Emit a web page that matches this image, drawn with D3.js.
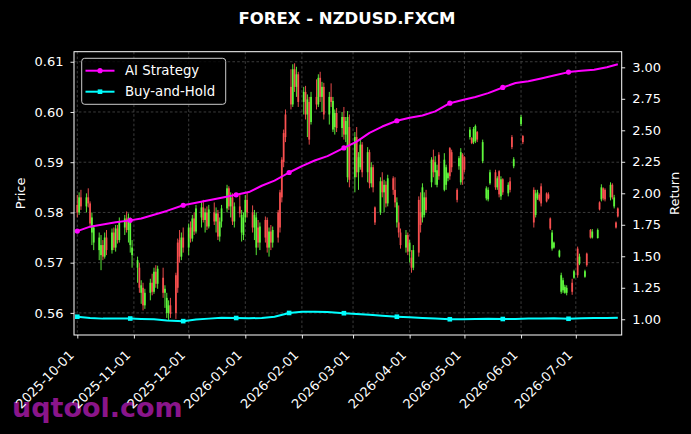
<!DOCTYPE html>
<html><head><meta charset="utf-8">
<script src="https://cdn.jsdelivr.net/npm/d3@7"></script>
<style>html,body{margin:0;padding:0;background:#000;}svg{display:block;}</style>
</head><body>
<svg id="c" width="691" height="434"></svg>
<script>
// ---------- DATA ----------
const chartTitle = "FOREX - NZDUSD.FXCM";
const seriesNames = ["AI Strategy", "Buy-and-Hold"];
const priceTicks = [0.56, 0.57, 0.58, 0.59, 0.60, 0.61];
const returnTicks = [1.00, 1.25, 1.50, 1.75, 2.00, 2.25, 2.50, 2.75, 3.00];
const monthTicks = ["2025-10-01","2025-11-01","2025-12-01","2026-01-01","2026-02-01","2026-03-01","2026-04-01","2026-05-01","2026-06-01","2026-07-01"];
// [date, open, high, low, close]
const candles = [
["2025-10-01",.5815,.5835,.5790,.5800],["2025-10-02",.5800,.5840,.5795,.5830],["2025-10-03",.5830,.5845,.5805,.5812],
["2025-10-06",.5812,.5838,.5800,.5830],["2025-10-07",.5830,.5848,.5810,.5818],["2025-10-08",.5818,.5822,.5770,.5778],
["2025-10-09",.5760,.5800,.5735,.5790],["2025-10-10",.5740,.5775,.5725,.5770],["2025-10-13",.5725,.5760,.5705,.5750],
["2025-10-14",.5715,.5755,.5685,.5735],["2025-10-15",.5735,.5745,.5705,.5712],["2025-10-16",.5712,.5760,.5708,.5750],
["2025-10-17",.5750,.5765,.5715,.5725],["2025-10-20",.5725,.5768,.5718,.5760],["2025-10-21",.5760,.5770,.5725,.5730],
["2025-10-22",.5730,.5775,.5722,.5768],["2025-10-23",.5768,.5775,.5738,.5745],["2025-10-24",.5745,.5790,.5740,.5782],
["2025-10-27",.5770,.5795,.5755,.5788],["2025-10-28",.5788,.5802,.5760,.5765],["2025-10-29",.5765,.5798,.5740,.5790],
["2025-10-30",.5735,.5790,.5720,.5780],["2025-10-31",.5715,.5745,.5690,.5730],["2025-11-03",.5690,.5712,.5660,.5705],
["2025-11-04",.5690,.5700,.5640,.5650],["2025-11-05",.5640,.5665,.5618,.5655],["2025-11-06",.5650,.5660,.5605,.5615],
["2025-11-07",.5615,.5648,.5608,.5640],["2025-11-10",.5640,.5668,.5625,.5660],["2025-11-11",.5660,.5678,.5635,.5642],
["2025-11-12",.5642,.5690,.5638,.5682],["2025-11-13",.5682,.5695,.5650,.5658],["2025-11-14",.5658,.5694,.5648,.5688],
["2025-11-17",.5670,.5690,.5630,.5640],["2025-11-18",.5640,.5655,.5610,.5648],["2025-11-19",.5600,.5640,.5590,.5630],
["2025-11-20",.5600,.5625,.5585,.5615],["2025-11-21",.5615,.5630,.5590,.5598],["2025-11-24",.5675,.5680,.5588,.5600],
["2025-11-25",.5740,.5748,.5640,.5650],["2025-11-26",.5745,.5765,.5700,.5712],["2025-11-27",.5712,.5760,.5705,.5750],
["2025-11-28",.5750,.5770,.5720,.5730],["2025-12-01",.5730,.5778,.5715,.5770],["2025-12-02",.5770,.5782,.5740,.5748],
["2025-12-03",.5748,.5795,.5742,.5788],["2025-12-04",.5788,.5800,.5755,.5762],["2025-12-05",.5762,.5815,.5758,.5808],
["2025-12-08",.5790,.5822,.5770,.5810],["2025-12-09",.5810,.5825,.5780,.5785],["2025-12-10",.5785,.5808,.5760,.5800],
["2025-12-11",.5800,.5812,.5765,.5772],["2025-12-12",.5772,.5815,.5768,.5806],["2025-12-15",.5800,.5820,.5775,.5782],
["2025-12-16",.5782,.5810,.5760,.5798],["2025-12-17",.5798,.5805,.5745,.5752],["2025-12-18",.5752,.5790,.5742,.5782],
["2025-12-19",.5782,.5815,.5770,.5808],["2025-12-22",.5808,.5855,.5800,.5848],["2025-12-23",.5848,.5852,.5805,.5812],
["2025-12-24",.5812,.5840,.5790,.5830],["2025-12-25",.5830,.5838,.5775,.5782],["2025-12-26",.5782,.5820,.5770,.5812],
["2025-12-29",.5812,.5838,.5790,.5798],["2025-12-30",.5760,.5805,.5742,.5795],["2025-12-31",.5755,.5800,.5745,.5790],
["2026-01-01",.5790,.5835,.5780,.5825],["2026-01-02",.5825,.5840,.5790,.5800],["2026-01-05",.5800,.5814,.5760,.5770],
["2026-01-06",.5770,.5805,.5745,.5795],["2026-01-07",.5730,.5800,.5715,.5790],["2026-01-08",.5770,.5785,.5730,.5740],
["2026-01-09",.5740,.5780,.5725,.5772],["2026-01-12",.5785,.5792,.5740,.5750],["2026-01-13",.5785,.5790,.5720,.5730],
["2026-01-14",.5730,.5770,.5712,.5762],["2026-01-15",.5762,.5775,.5725,.5740],["2026-01-16",.5740,.5772,.5730,.5765],
["2026-01-19",.5800,.5805,.5740,.5750],["2026-01-20",.5840,.5845,.5760,.5770],["2026-01-21",.5905,.5910,.5820,.5830],
["2026-01-22",.5958,.5965,.5890,.5900],["2026-01-23",.5995,.6005,.5940,.5950],["2026-01-26",.6050,.6085,.6005,.6015],
["2026-01-27",.6015,.6095,.6010,.6085],["2026-01-28",.6085,.6097,.6040,.6050],["2026-01-29",.6050,.6090,.6030,.6075],
["2026-01-30",.6075,.6080,.6010,.6020],["2026-02-02",.6020,.6050,.5995,.6040],["2026-02-03",.6040,.6052,.5985,.5995],
["2026-02-04",.5995,.6035,.5950,.6025],["2026-02-05",.6020,.6030,.5935,.5945],["2026-02-06",.5980,.6040,.5975,.6030],
["2026-02-09",.6030,.6065,.6005,.6015],["2026-02-10",.6015,.6075,.6010,.6068],["2026-02-11",.6068,.6080,.6020,.6030],
["2026-02-12",.6030,.6060,.6000,.6050],["2026-02-13",.6050,.6058,.5985,.5995],["2026-02-16",.5995,.6040,.5975,.6030],
["2026-02-17",.6030,.6057,.6010,.6020],["2026-02-18",.5965,.6030,.5960,.6022],["2026-02-19",.5970,.6005,.5955,.5998],
["2026-02-20",.5998,.6008,.5960,.5968],["2026-02-23",.5968,.6000,.5950,.5990],["2026-02-24",.5990,.6010,.5945,.5955],
["2026-02-25",.5955,.5990,.5940,.5982],["2026-02-26",.5870,.6002,.5860,.5990],["2026-02-27",.5970,.5995,.5850,.5865],
["2026-03-02",.5870,.5960,.5840,.5950],["2026-03-03",.5950,.5970,.5870,.5880],["2026-03-04",.5880,.5920,.5845,.5910],
["2026-03-05",.5890,.5948,.5885,.5935],["2026-03-06",.5935,.5940,.5870,.5880],["2026-03-09",.5880,.5930,.5860,.5920],
["2026-03-10",.5920,.5925,.5848,.5858],["2026-03-11",.5858,.5900,.5850,.5890],["2026-03-12",.5890,.5895,.5840,.5850],
["2026-03-13",.5810,.5812,.5775,.5780],["2026-03-16",.5800,.5870,.5795,.5862],["2026-03-17",.5862,.5880,.5830,.5840],
["2026-03-18",.5840,.5865,.5800,.5855],["2026-03-19",.5855,.5862,.5810,.5818],["2026-03-20",.5818,.5875,.5812,.5868],
["2026-03-23",.5868,.5872,.5835,.5845],["2026-03-24",.5845,.5870,.5810,.5820],["2026-03-25",.5780,.5830,.5770,.5820],
["2026-03-26",.5780,.5814,.5750,.5760],["2026-03-27",.5760,.5768,.5728,.5735],["2026-03-30",.5730,.5765,.5720,.5755],
["2026-03-31",.5755,.5760,.5715,.5722],["2026-04-01",.5722,.5745,.5700,.5740],["2026-04-02",.5710,.5725,.5680,.5690],
["2026-04-03",.5690,.5735,.5685,.5725],["2026-04-06",.5825,.5832,.5712,.5720],["2026-04-07",.5800,.5840,.5760,.5775],
["2026-04-08",.5790,.5858,.5780,.5850],["2026-04-09",.5795,.5840,.5790,.5830],["2026-04-10",.5830,.5845,.5800,.5805],
["2026-04-13",.5860,.5910,.5850,.5905],["2026-04-14",.5905,.5925,.5870,.5880],["2026-04-15",.5880,.5912,.5855,.5900],
["2026-04-16",.5855,.5895,.5850,.5884],["2026-04-17",.5915,.5920,.5865,.5872],["2026-04-20",.5845,.5918,.5842,.5905],
["2026-04-21",.5855,.5895,.5845,.5890],["2026-04-22",.5868,.5880,.5862,.5878],["2026-04-23",.5928,.5930,.5865,.5872],
["2026-04-24",.5920,.5925,.5880,.5890],["2026-04-27",.5845,.5848,.5820,.5825],["2026-04-28",.5892,.5912,.5885,.5908],
["2026-04-29",.5860,.5928,.5855,.5920],["2026-04-30",.5915,.5918,.5855,.5865],["2026-05-01",.5910,.5912,.5880,.5885],
["2026-05-04",.5950,.5970,.5945,.5965],["2026-05-05",.5948,.5950,.5936,.5938],["2026-05-06",.5940,.5970,.5936,.5966],
["2026-05-07",.5942,.5975,.5938,.5972],["2026-05-08",.5960,.5962,.5940,.5945],["2026-05-11",.5902,.5945,.5898,.5940],
["2026-05-13",.5828,.5852,.5824,.5848],["2026-05-14",.5826,.5850,.5822,.5845],["2026-05-15",.5858,.5885,.5855,.5880],
["2026-05-18",.5880,.5885,.5845,.5850],["2026-05-19",.5850,.5872,.5845,.5868],["2026-05-20",.5882,.5884,.5830,.5836],
["2026-05-21",.5832,.5872,.5825,.5866],["2026-05-22",.5866,.5868,.5835,.5840],["2026-05-25",.5838,.5860,.5832,.5855],
["2026-05-26",.5862,.5870,.5840,.5845],["2026-05-27",.5950,.5954,.5926,.5930],["2026-05-28",.5892,.5910,.5888,.5906],
["2026-06-01",.5976,.5994,.5972,.5990],["2026-06-02",.5952,.5954,.5936,.5940],
["2026-06-08",.5845,.5850,.5770,.5780],["2026-06-09",.5795,.5845,.5790,.5838],["2026-06-10",.5828,.5845,.5825,.5840],
["2026-06-11",.5835,.5838,.5822,.5825],["2026-06-12",.5852,.5858,.5812,.5818],["2026-06-15",.5838,.5840,.5820,.5822],
["2026-06-16",.5836,.5840,.5826,.5828],["2026-06-17",.5788,.5790,.5765,.5768],["2026-06-18",.5728,.5765,.5724,.5760],
["2026-06-19",.5730,.5742,.5728,.5740],["2026-06-22",.5712,.5726,.5710,.5724],["2026-06-23",.5642,.5680,.5638,.5675],
["2026-06-24",.5645,.5670,.5640,.5665],["2026-06-25",.5640,.5656,.5638,.5652],["2026-06-26",.5640,.5655,.5635,.5650],
["2026-06-29",.5660,.5668,.5636,.5642],["2026-06-30",.5670,.5686,.5668,.5683],["2026-07-02",.5728,.5732,.5670,.5675],
["2026-07-03",.5698,.5718,.5695,.5712],["2026-07-06",.5672,.5686,.5670,.5683],["2026-07-07",.5718,.5720,.5692,.5695],
["2026-07-09",.5765,.5767,.5748,.5750],["2026-07-10",.5750,.5767,.5748,.5762],["2026-07-13",.5749,.5768,.5748,.5765],
["2026-07-14",.5820,.5822,.5804,.5806],["2026-07-15",.5826,.5856,.5822,.5850],["2026-07-16",.5848,.5850,.5824,.5828],
["2026-07-17",.5845,.5848,.5822,.5826],["2026-07-20",.5830,.5860,.5824,.5855],["2026-07-21",.5855,.5858,.5826,.5830],
["2026-07-22",.5812,.5835,.5808,.5830],["2026-07-23",.5780,.5782,.5768,.5770],["2026-07-24",.5808,.5810,.5790,.5792]
];
const lineDates = ["2025-10-01","2025-10-08","2025-10-15","2025-10-22","2025-10-30","2025-11-05","2025-11-12","2025-11-19","2025-11-28",
"2025-12-05","2025-12-12","2025-12-19","2025-12-27","2026-01-03","2026-01-10","2026-01-17","2026-01-25","2026-02-01","2026-02-08",
"2026-02-15","2026-02-24","2026-03-03","2026-03-10","2026-03-17","2026-03-25","2026-04-01","2026-04-08","2026-04-15","2026-04-23",
"2026-04-30","2026-05-07","2026-05-14","2026-05-22","2026-05-29","2026-06-05","2026-06-12","2026-06-19","2026-06-27","2026-07-04",
"2026-07-11","2026-07-18","2026-07-24"];
const aiStrategy = [1.700,1.735,1.752,1.770,1.785,1.800,1.830,1.860,1.905,1.925,1.945,1.965,1.988,2.010,2.060,2.100,2.165,2.215,2.260,
2.295,2.360,2.410,2.480,2.530,2.576,2.600,2.618,2.650,2.715,2.740,2.765,2.795,2.840,2.875,2.890,2.912,2.935,2.962,2.972,2.980,3.000,3.025];
const buyHold = [1.020,1.010,1.005,1.005,1.006,1.003,1.000,0.990,0.985,0.998,1.005,1.012,1.010,1.008,1.010,1.020,1.050,1.060,1.060,
1.057,1.048,1.042,1.035,1.028,1.020,1.015,1.010,1.006,1.000,1.000,1.002,1.004,1.002,1.003,1.005,1.006,1.007,1.004,1.008,1.010,1.010,1.012];
const markerDates = ["2025-10-01","2025-10-30","2025-11-28","2025-12-27","2026-01-25","2026-02-24","2026-03-25","2026-04-23","2026-05-22","2026-06-27"];

// ---------- DRAW ----------
const parse = d3.timeParse("%Y-%m-%d");
const svg = d3.select("#c");
const FONT = "DejaVu Sans, Liberation Sans, sans-serif";
const L = 74, R = 621.7, T = 51.7, B = 335;
const x = d3.scaleTime().domain([new Date(2025,8,29,4,40), new Date(2026,6,26,3,0)]).range([L, R]);
const yP = d3.scaleLinear().domain([0.5556, 0.6120]).range([B, T]);
const yR = d3.scaleLinear().domain([0.875, 3.124]).range([B, T]);
const UP = "#62ff3e", DOWN = "#ff5252", MAG = "#ff00ff", CYN = "#00ffff";

svg.append("rect").attr("width",691).attr("height",434).attr("fill","#000");

// watermark
svg.append("text").attr("x",12).attr("y",417).attr("font-family",FONT).attr("font-weight","bold")
  .attr("font-size",27).attr("fill","#8a158a").text("uqtool.com");

// title
svg.append("text").attr("x",347).attr("y",24).attr("text-anchor","middle").attr("font-family",FONT)
  .attr("font-weight","bold").attr("font-size",16.5).attr("fill","#fff").text(chartTitle);

// grid
const grid = svg.append("g").attr("stroke","#555").attr("stroke-width",0.7).attr("stroke-dasharray","2.6,2.2");
monthTicks.map(parse).forEach(d => grid.append("line").attr("x1",x(d)).attr("x2",x(d)).attr("y1",T).attr("y2",B));
priceTicks.forEach(v => grid.append("line").attr("x1",L).attr("x2",R).attr("y1",yP(v)).attr("y2",yP(v)));

// candles
svg.append("clipPath").attr("id","clip").append("rect").attr("x",L).attr("y",T).attr("width",R-L).attr("height",B-T);
const cg = svg.append("g").attr("clip-path","url(#clip)");
const cs = cg.selectAll("g.c").data(candles).enter().append("g");
cs.append("line").attr("x1",d=>x(parse(d[0]))).attr("x2",d=>x(parse(d[0])))
  .attr("y1",d=>yP(d[2])).attr("y2",d=>yP(d[3])).attr("stroke",d=>d[4]>=d[1]?UP:DOWN).attr("stroke-width",1).attr("opacity",0.9);
cs.append("rect").attr("x",d=>x(parse(d[0]))-0.9).attr("width",1.8)
  .attr("y",d=>yP(Math.max(d[1],d[4]))).attr("height",d=>Math.max(0.8, Math.abs(yP(d[1])-yP(d[4]))))
  .attr("fill",d=>d[4]>=d[1]?UP:DOWN).attr("opacity",0.9);

// lines
const lg = svg.append("g").attr("clip-path","url(#clip)");
const ld = lineDates.map(parse);
const mset = new Set(markerDates);
function drawLine(vals, color, shape){
  const pts = ld.map((d,i)=>[d, vals[i], lineDates[i]]);
  lg.append("path").datum(pts).attr("fill","none").attr("stroke",color).attr("stroke-width",2)
    .attr("stroke-linejoin","round").attr("d", d3.line().x(p=>x(p[0])).y(p=>yR(p[1])));
  pts.filter(p=>mset.has(p[2])).forEach(p=>{
    if(shape==="circle") lg.append("circle").attr("cx",x(p[0])).attr("cy",yR(p[1])).attr("r",2.6).attr("fill",color);
    else lg.append("rect").attr("x",x(p[0])-2.3).attr("y",yR(p[1])-2.3).attr("width",4.6).attr("height",4.6).attr("fill",color);
  });
}
drawLine(aiStrategy, MAG, "circle");
drawLine(buyHold, CYN, "square");

// axes
const ax = d3.axisBottom(x).tickValues(monthTicks.map(parse)).tickFormat(d3.timeFormat("%Y-%m-%d")).tickSize(3.5).tickPadding(3);
const gx = svg.append("g").attr("transform",`translate(0,${B})`).call(ax);
gx.selectAll(".tick text").each(function(d){
  d3.select(this).attr("x",null).attr("y",null).attr("dy",null).attr("text-anchor","end")
    .attr("transform",`translate(-3,21) rotate(-45)`);
});
const ayL = d3.axisLeft(yP).tickValues(priceTicks).tickFormat(d3.format(".2f")).tickSize(3.5).tickPadding(7);
const gl = svg.append("g").attr("transform",`translate(${L},0)`).call(ayL);
const ayR = d3.axisRight(yR).tickValues(returnTicks).tickFormat(d3.format(".2f")).tickSize(3.5).tickPadding(7);
const gr = svg.append("g").attr("transform",`translate(${R},0)`).call(ayR);
[gx,gl,gr].forEach(g=>{
  g.select(".domain").remove();
  g.selectAll(".tick line").attr("stroke","#fff").attr("stroke-width",0.9);
  g.selectAll(".tick text").attr("fill","#fff").attr("font-family",FONT).attr("font-size",13);
});
// spines
svg.append("rect").attr("x",L).attr("y",T).attr("width",R-L).attr("height",B-T).attr("fill","none").attr("stroke","#fff").attr("stroke-width",1);

// axis labels
svg.append("text").attr("transform",`translate(25,${(T+B)/2}) rotate(-90)`).attr("text-anchor","middle")
  .attr("font-family",FONT).attr("font-size",13).attr("fill","#fff").text("Price");
svg.append("text").attr("transform",`translate(679,${(T+B)/2}) rotate(-90)`).attr("text-anchor","middle")
  .attr("font-family",FONT).attr("font-size",13).attr("fill","#fff").text("Return");

// legend
const leg = svg.append("g");
leg.append("rect").attr("x",81.7).attr("y",58.3).attr("width",144).attr("height",46).attr("rx",3)
  .attr("fill","#000").attr("fill-opacity",0.8).attr("stroke","#cccccc").attr("stroke-width",1);
[[MAG,"circle",70.7],[CYN,"square",91.7]].forEach((e,i)=>{
  leg.append("line").attr("x1",85.5).attr("x2",114.5).attr("y1",e[2]).attr("y2",e[2]).attr("stroke",e[0]).attr("stroke-width",2);
  if(e[1]==="circle") leg.append("circle").attr("cx",100).attr("cy",e[2]).attr("r",2.6).attr("fill",e[0]);
  else leg.append("rect").attr("x",97.7).attr("y",e[2]-2.3).attr("width",4.6).attr("height",4.6).attr("fill",e[0]);
  leg.append("text").attr("x",125).attr("y",e[2]+4.6).attr("font-family",FONT).attr("font-size",13.3).attr("fill","#fff").text(seriesNames[i]);
});
</script>
</body></html>
